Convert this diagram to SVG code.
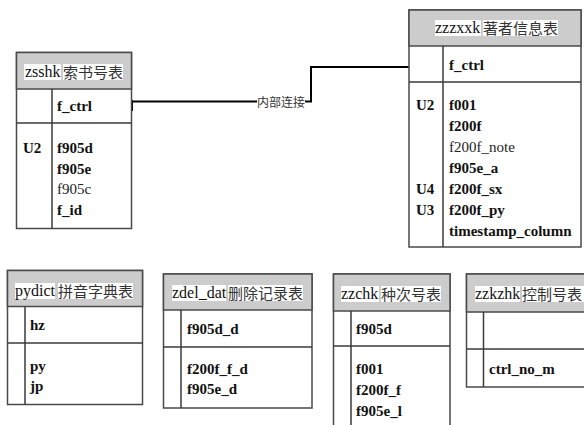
<svg xmlns="http://www.w3.org/2000/svg" width="584" height="425" viewBox="0 0 584 425">
<style>
.box{fill:#ffffff;stroke:#4a4a4a;stroke-width:1.5}
.hdr{fill:#cccccc;stroke:#4a4a4a;stroke-width:1.5}
.ln{stroke:#3a3a3a;stroke-width:1.5;fill:none}
.hl{fill:#ffffff}
.en{font-family:"Liberation Serif","Times New Roman",serif;font-size:16px;fill:#111}
.zh{font-family:"Noto Sans CJK SC","Noto Sans CJK JP",sans-serif;font-size:15px;fill:#333}
.f{font-family:"Liberation Serif","Times New Roman",serif;font-size:15px;font-weight:bold;fill:#111}
.fn{font-family:"Liberation Serif","Times New Roman",serif;font-size:15px;fill:#222}
.conn{stroke:#000;stroke-width:2;fill:none}
.lbl{font-family:"Noto Sans CJK SC","Noto Sans CJK JP",sans-serif;font-size:12px;fill:#333}
</style>
<rect width="584" height="425" fill="#ffffff"/>

<g id="connectors">
<polyline class="conn" points="132,101.5 257,101.5"/>
<polyline class="conn" points="305,101.5 311,101.5 311,67 409,67"/>
<line class="conn" x1="132" y1="100" x2="132" y2="111"/>
<text class="lbl" x="257" y="107">内部连接</text>
</g>

<g id="zsshk">
<rect class="box" x="16.5" y="52.5" width="115" height="176"/>
<rect class="hdr" x="16.5" y="52.5" width="115" height="36.5"/>
<line class="ln" x1="52" y1="89" x2="52" y2="228.5"/>
<line class="ln" x1="16.5" y1="123" x2="131.5" y2="123"/>
<rect class="hl" x="24" y="64" width="37" height="16"/>
<rect class="hl" x="63" y="64" width="60" height="16"/>
<text class="en" x="25" y="77">zsshk</text>
<text class="zh" x="63" y="77.5">索书号表</text>
<text class="f" x="57" y="111">f_ctrl</text>
<text class="f" x="23" y="153">U2</text>
<text class="f" x="57" y="153">f905d</text>
<text class="f" x="57" y="173.5">f905e</text>
<text class="fn" x="57" y="194">f905c</text>
<text class="f" x="57" y="214.5">f_id</text>
</g>

<g id="zzzxxk">
<rect class="box" x="409" y="10" width="172" height="237"/>
<rect class="hdr" x="409" y="10" width="172" height="36"/>
<line class="ln" x1="443" y1="46" x2="443" y2="247"/>
<line class="ln" x1="409" y1="82" x2="581" y2="82"/>
<rect class="hl" x="435" y="20" width="46" height="16"/>
<rect class="hl" x="483" y="20" width="75" height="16"/>
<text class="en" x="435" y="33">zzzxxk</text>
<text class="zh" x="483" y="33.5">著者信息表</text>
<text class="f" x="449" y="70">f_ctrl</text>
<text class="f" x="416" y="110">U2</text>
<text class="f" x="449" y="110">f001</text>
<text class="f" x="449" y="131">f200f</text>
<text class="fn" x="449" y="152">f200f_note</text>
<text class="f" x="449" y="173">f905e_a</text>
<text class="f" x="416" y="194">U4</text>
<text class="f" x="449" y="194">f200f_sx</text>
<text class="f" x="416" y="215">U3</text>
<text class="f" x="449" y="215">f200f_py</text>
<text class="f" x="449" y="236">timestamp_column</text>
</g>

<g id="pydict">
<rect class="box" x="7.5" y="270.5" width="135" height="134"/>
<rect class="hdr" x="7.5" y="270.5" width="135" height="36"/>
<line class="ln" x1="25" y1="306.5" x2="25" y2="404.5"/>
<line class="ln" x1="7.5" y1="343" x2="142.5" y2="343"/>
<rect class="hl" x="15" y="283" width="40" height="16"/>
<rect class="hl" x="58" y="283" width="75" height="16"/>
<text class="en" x="15" y="296">pydict</text>
<text class="zh" x="58" y="296.5">拼音字典表</text>
<text class="f" x="30" y="330">hz</text>
<text class="f" x="30" y="371">py</text>
<text class="f" x="30" y="391">jp</text>
</g>

<g id="zdel_dat">
<rect class="box" x="163.5" y="274" width="148.5" height="134"/>
<rect class="hdr" x="163.5" y="274" width="148.5" height="36"/>
<line class="ln" x1="181" y1="310" x2="181" y2="408"/>
<line class="ln" x1="163.5" y1="347" x2="312" y2="347"/>
<rect class="hl" x="172" y="285" width="54" height="16"/>
<rect class="hl" x="228" y="285" width="75" height="16"/>
<text class="en" x="172" y="298">zdel_dat</text>
<text class="zh" x="228" y="298.5">删除记录表</text>
<text class="f" x="187" y="334">f905d_d</text>
<text class="f" x="187" y="374">f200f_f_d</text>
<text class="f" x="187" y="394">f905e_d</text>
</g>

<g id="zzchk">
<rect class="box" x="333.5" y="274" width="116.5" height="160"/>
<rect class="hdr" x="333.5" y="274" width="116.5" height="37"/>
<line class="ln" x1="351" y1="311" x2="351" y2="434"/>
<line class="ln" x1="333.5" y1="346" x2="450" y2="346"/>
<rect class="hl" x="341" y="286" width="38" height="16"/>
<rect class="hl" x="381" y="286" width="60" height="16"/>
<text class="en" x="341" y="299">zzchk</text>
<text class="zh" x="381" y="299.5">种次号表</text>
<text class="f" x="356" y="334">f905d</text>
<text class="f" x="356" y="374">f001</text>
<text class="f" x="356" y="395">f200f_f</text>
<text class="f" x="356" y="416">f905e_l</text>
</g>

<g id="zzkzhk">
<rect class="box" x="466.5" y="274" width="130" height="113"/>
<rect class="hdr" x="466.5" y="274" width="130" height="38"/>
<line class="ln" x1="483.5" y1="312" x2="483.5" y2="387"/>
<line class="ln" x1="466.5" y1="349" x2="596" y2="349"/>
<rect class="hl" x="475" y="286" width="45" height="16"/>
<rect class="hl" x="522" y="286" width="62" height="16"/>
<text class="en" x="475" y="299">zzkzhk</text>
<text class="zh" x="522" y="299.5">控制号表</text>
<text class="f" x="489" y="374">ctrl_no_m</text>
</g>
</svg>
